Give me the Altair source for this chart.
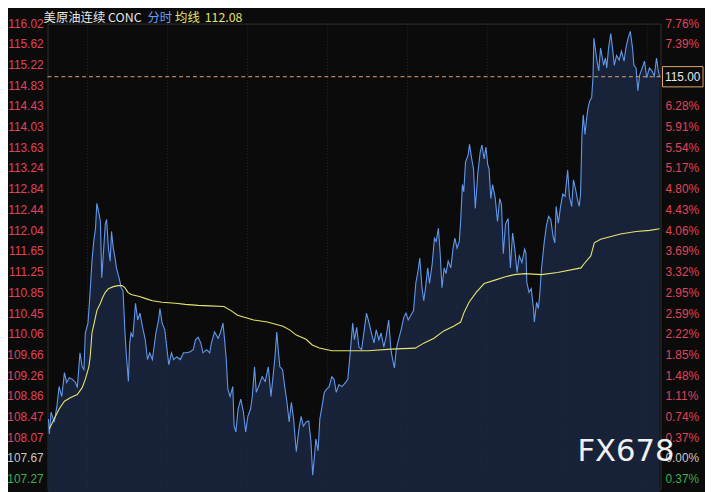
import altair as alt
import pandas as pd

# ---------------- data ----------------
prev_close = 107.67
last_price = 115.00
avg_last = 112.08

# minute of the 23h session (0..1380) and price of the 分时 line
minutes = [
    2, 4, 8, 15, 21, 26, 32, 38, 43, 49,
    56, 63, 67, 73, 78, 82, 85, 91, 95, 100,
    104, 108, 111, 115, 119, 122, 126, 130, 133, 137,
    141, 144, 148, 152, 155, 161, 166, 170, 174, 177,
    182, 185, 188, 192, 198, 203, 208, 214, 220, 225,
    230, 236, 244, 250, 253, 258, 264, 269, 273, 279,
    284, 291, 299, 306, 314, 321, 328, 333, 339, 345,
    350, 358, 365, 369, 376, 384, 389, 395, 398, 402,
    406, 411, 417, 420, 424, 429, 435, 441, 446, 451,
    457, 461, 466, 470, 475, 483, 490, 497, 503, 507,
    512, 516, 520, 523, 529, 534, 539, 544, 549, 554,
    560, 566, 571, 576, 582, 588, 593, 597, 601, 604,
    609, 613, 618, 623, 628, 634, 640, 645, 650, 656,
    663, 671, 676, 682, 687, 691, 696, 701, 707, 713,
    718, 724, 729, 735, 740, 746, 751, 757, 762, 768,
    773, 777, 781, 785, 790, 796, 802, 807, 812, 818,
    824, 829, 834, 838, 843, 847, 851, 856, 860, 866,
    871, 875, 880, 884, 888, 893, 897, 902, 908, 913,
    917, 922, 927, 930, 934, 937, 941, 947, 950, 955,
    959, 963, 969, 974, 978, 983, 987, 991, 994, 998,
    1002, 1008, 1013, 1018, 1022, 1026, 1031, 1037, 1042, 1047,
    1052, 1057, 1062, 1068, 1074, 1077, 1079, 1084, 1089, 1094,
    1096, 1101, 1105, 1108, 1112, 1118, 1123, 1128, 1133, 1138,
    1142, 1145, 1150, 1155, 1160, 1165, 1171, 1175, 1180, 1184,
    1189, 1193, 1197, 1200, 1203, 1206, 1210, 1214, 1217, 1221,
    1225, 1228, 1230, 1234, 1237, 1241, 1245, 1248, 1252, 1256,
    1259, 1263, 1268, 1272, 1276, 1281, 1287, 1292, 1298, 1302,
    1307, 1312, 1317, 1320, 1325, 1329, 1333, 1339, 1344, 1349,
    1355, 1361, 1366, 1371, 1375, 1378,
]
prices = [
    108.43, 108.14, 108.56, 108.37, 108.67, 109.05, 108.86, 109.32, 109.13, 109.22,
    109.19, 109.13, 109.03, 109.70, 109.43, 109.38, 110.08, 110.27, 110.76, 111.46,
    111.84, 112.09, 112.57, 112.41, 112.22, 111.14, 111.65, 112.17, 112.26, 111.71,
    111.46, 112.03, 111.71, 111.52, 111.33, 111.14, 110.95, 110.89, 110.14, 109.70,
    109.15, 109.89, 110.08, 110.00, 110.65, 110.33, 110.46, 110.19, 109.95, 109.57,
    109.70, 109.57, 110.08, 110.33, 110.55, 110.27, 110.14, 109.76, 109.47, 109.70,
    109.57, 109.62, 109.57, 109.70, 109.70, 109.72, 109.76, 109.95, 110.00, 109.89,
    109.70, 109.76, 109.70, 109.89, 110.10, 109.98, 110.08, 110.27, 110.00, 109.62,
    109.00, 108.86, 109.05, 108.29, 108.18, 108.62, 108.81, 108.56, 108.18, 108.48,
    108.62, 108.86, 109.43, 108.94, 109.05, 109.24, 109.15, 109.43, 108.86, 109.19,
    109.62, 110.10, 109.70, 109.43, 109.38, 109.05, 108.75, 108.37, 108.75, 108.43,
    107.80, 108.24, 108.48, 108.29, 108.37, 108.39, 107.99, 107.35, 107.72, 108.05,
    107.82, 108.43, 108.67, 108.94, 109.00, 109.05, 109.24, 109.19, 108.94, 109.09,
    109.05, 109.13, 109.19, 109.76, 110.27, 109.95, 110.19, 109.81, 109.76, 110.14,
    110.46, 110.27, 110.08, 109.89, 110.14, 109.95, 110.08, 109.81, 110.00, 110.33,
    109.76, 109.57, 109.41, 109.76, 109.95, 110.14, 110.38, 110.46, 110.33, 110.42,
    110.51, 111.03, 111.27, 111.52, 110.95, 110.70, 110.95, 111.33, 111.03, 111.41,
    111.90, 111.84, 112.09, 111.60, 110.95, 111.33, 111.22, 111.46, 111.33, 111.71,
    111.90, 111.71, 111.84, 112.22, 112.93, 112.79, 113.36, 113.50, 113.70, 113.42,
    113.23, 112.47, 113.17, 113.55, 113.69, 113.42, 113.65, 113.31, 113.23, 112.66,
    112.93, 112.66, 112.22, 112.66, 112.55, 111.60, 112.17, 112.28, 111.33, 112.00,
    111.69, 111.24, 111.56, 111.43, 111.69, 111.62, 111.05, 110.86, 110.93, 110.55,
    110.29, 110.67, 110.55, 110.80, 111.31, 111.81, 112.13, 112.32, 112.26, 111.94,
    111.81, 112.51, 112.19, 112.51, 112.75, 112.70, 113.21, 112.70, 112.51, 113.02,
    112.83, 112.64, 112.51, 112.75, 113.84, 114.27, 113.89, 114.22, 114.41, 114.54,
    114.60, 114.98, 115.74, 115.49, 115.30, 115.11, 115.55, 115.41, 115.22, 115.36,
    115.17, 115.55, 115.83, 115.55, 115.22, 115.41, 115.32, 115.49, 115.30, 115.55,
    115.74, 115.87, 115.55, 115.22, 115.17, 114.73, 115.03, 115.17, 115.30, 114.98,
    115.17, 115.11, 115.01, 115.36, 115.11, 115.00,
]

# 均线 (average price line)
avg_minutes = [
    4, 15, 26, 38, 52, 67, 78, 85, 93, 96,
    100, 105, 111, 119, 124, 130, 137, 148, 159, 168,
    174, 181, 188, 207, 221, 236, 258, 288, 310, 339,
    365, 397, 413, 428, 464, 495, 530, 545, 560, 582,
    596, 612, 640, 678, 722, 773, 828, 848, 870, 892,
    914, 930, 938, 949, 965, 983, 1009, 1031, 1051, 1075,
    1112, 1148, 1201, 1208, 1223, 1231, 1245, 1290, 1325, 1356,
    1378,
]
avg_prices = [
    108.24, 108.43, 108.62, 108.77, 108.84, 108.90, 109.03, 109.19, 109.43, 109.62,
    110.08, 110.27, 110.51, 110.65, 110.76, 110.86, 110.93, 110.97, 110.99, 110.99,
    110.95, 110.86, 110.82, 110.78, 110.74, 110.70, 110.67, 110.65, 110.63, 110.61,
    110.60, 110.59, 110.51, 110.42, 110.33, 110.29, 110.21, 110.14, 110.04, 109.96,
    109.85, 109.79, 109.74, 109.74, 109.74, 109.77, 109.79, 109.89, 109.98, 110.12,
    110.21, 110.29, 110.48, 110.67, 110.86, 111.03, 111.10, 111.16, 111.20, 111.22,
    111.20, 111.24, 111.33, 111.41, 111.56, 111.81, 111.88, 111.98, 112.03, 112.05,
    112.08,
]

# axis tick labels
left_ticks = [107.27, 107.67, 108.07, 108.47, 108.86, 109.26, 109.66, 110.06,
              110.45, 110.85, 111.25, 111.65, 112.04, 112.44, 112.84, 113.24,
              113.63, 114.03, 114.43, 114.83, 115.22, 115.62, 116.02]
right_labels = ["0.37%", "0.00%", "0.37%", "0.74%", "1.11%", "1.48%", "1.85%",
                "2.22%", "2.59%", "2.95%", "3.32%", "3.69%", "4.06%", "4.43%",
                "4.80%", "5.17%", "5.54%", "5.91%", "6.28%", "6.65%", "7.02%",
                "7.39%", "7.76%"]
major_x = [180, 360, 540, 720, 900, 1080, 1260]
minor_x = [90, 270, 450, 630, 810, 990, 1170, 1350]

# ---------------- styling ----------------
BG = "#0b0b0b"
GRID = "#262626"
RED = "#e0435c"
GREEN = "#3fae4f"
NEUTRAL = "#c8c8c8"
BLUE = "#6198ea"
YELLOW = "#e6e46a"
ORANGE = "#e2a36e"

PW, PH = 620, 471
Y_MIN, Y_MAX = 107.08, 116.02

xscale = alt.Scale(domain=[0, 1380], nice=False, zero=False)
yscale = alt.Scale(domain=[Y_MIN, Y_MAX], nice=False, zero=False)


def tone(v):
    if abs(v - prev_close) < 0.005:
        return NEUTRAL
    return RED if v > prev_close else GREEN


line_df = pd.DataFrame({"t": minutes, "p": prices})
avg_df = pd.DataFrame({"t": avg_minutes, "p": avg_prices})
ticks_df = pd.DataFrame({
    "v": left_ticks,
    "left": [f"{v:.2f}" for v in left_ticks],
    "right": right_labels,
    "c": [tone(v) for v in left_ticks],
    "show": [abs(v - last_price) > 0.25 for v in left_ticks],
})

gradient = alt.Gradient(
    gradient="linear",
    stops=[alt.GradientStop(color="#18233a", offset=0),
           alt.GradientStop(color="#111826", offset=1)],
    x1=1, x2=1, y1=0, y2=1,
)

area = alt.Chart(line_df).mark_area(color=gradient).encode(
    x=alt.X("t:Q", scale=xscale,
            axis=alt.Axis(values=major_x, labels=False, ticks=False, domain=False,
                          grid=True, gridColor=GRID, title=None)),
    y=alt.Y("p:Q", scale=yscale,
            axis=alt.Axis(values=left_ticks, labels=False, ticks=False, domain=False,
                          grid=True, gridColor=GRID, title=None)),
)

minor_grid = alt.Chart(pd.DataFrame({"t": minor_x})).mark_rule(
    color="#2a2a2a", strokeDash=[1, 2], strokeWidth=1
).encode(x=alt.X("t:Q", scale=xscale, axis=None))

price_line = alt.Chart(line_df).mark_line(color=BLUE, strokeWidth=1.1).encode(
    x=alt.X("t:Q", scale=xscale, axis=None),
    y=alt.Y("p:Q", scale=yscale, axis=None),
)

avg_line = alt.Chart(avg_df).mark_line(color=YELLOW, strokeWidth=1.1).encode(
    x=alt.X("t:Q", scale=xscale, axis=None),
    y=alt.Y("p:Q", scale=yscale, axis=None),
)

last_df = pd.DataFrame({"p": [last_price], "s": [f"{last_price:.2f}"]})
last_rule = alt.Chart(last_df).mark_rule(
    color=ORANGE, strokeDash=[4, 3], strokeWidth=1
).encode(y=alt.Y("p:Q", scale=yscale, axis=None))

left_labels = alt.Chart(ticks_df).mark_text(
    align="right", baseline="middle", fontSize=12, font="Liberation Sans"
).encode(
    x=alt.value(-4),
    y=alt.Y("v:Q", scale=yscale, axis=None),
    text="left:N",
    color=alt.Color("c:N", scale=None),
)

right_labels_layer = alt.Chart(ticks_df).transform_filter(
    alt.datum.show
).mark_text(
    align="left", baseline="middle", fontSize=12, font="Liberation Sans"
).encode(
    x=alt.value(PW + 5),
    y=alt.Y("v:Q", scale=yscale, axis=None),
    text="right:N",
    color=alt.Color("c:N", scale=None),
)

last_box = alt.Chart(last_df).mark_point(
    shape="M-1,-0.5L1,-0.5L1,0.5L-1,0.5Z", size=1681, filled=True,
    fill=BG, stroke=ORANGE, strokeWidth=1, opacity=1, fillOpacity=1,
).encode(x=alt.value(PW + 22.5), y=alt.Y("p:Q", scale=yscale, axis=None))

last_text = alt.Chart(last_df).mark_text(
    align="center", baseline="middle", fontSize=12, font="Liberation Sans",
    color="#e6e6e6",
).encode(x=alt.value(PW + 22.5), y=alt.Y("p:Q", scale=yscale, axis=None), text="s:N")


def label(text, x, y, color, size=12.5, font="Noto Sans CJK SC", align="left"):
    return alt.Chart(pd.DataFrame({"s": [text]})).mark_text(
        align=align, baseline="middle", fontSize=size, font=font, color=color
    ).encode(x=alt.value(x), y=alt.value(y), text="s:N")


header = (
    label("美原油连续 CONC", -4, -6, "#e8e8e8")
    + label("分时", 101, -6, "#6d9cf0")
    + label("均线", 129, -6, YELLOW)
    + label(f"{avg_last:.2f}", 159, -6, YELLOW)
)
watermark = label("FX678", 585, 433, "#f0f0f0", size=31, font="DejaVu Sans", align="center")

chart = alt.layer(
    area, minor_grid, price_line, avg_line, last_rule,
    left_labels, right_labels_layer, last_box, last_text, header, watermark,
).properties(
    width=PW, height=PH,
    padding={"left": 40, "top": 13, "right": 45, "bottom": 0},
    autosize=alt.AutoSizeParams(type="none"),
).configure(background=BG).configure_view(stroke="#333333", strokeWidth=1)

chart.save("out.html", embed_options={"renderer": "svg", "actions": False})
